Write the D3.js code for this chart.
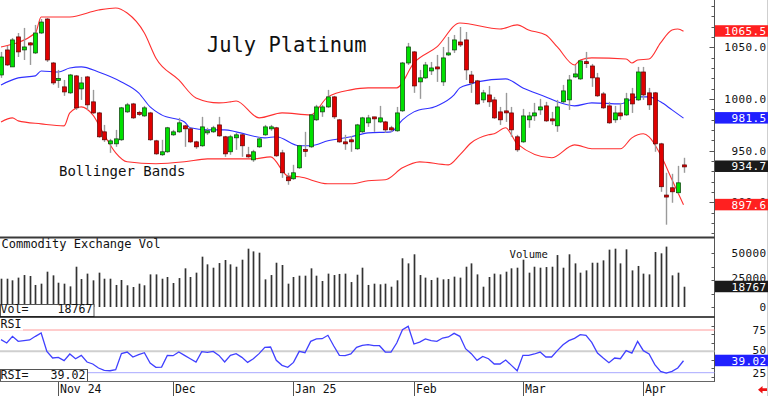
<!DOCTYPE html>
<html><head><meta charset="utf-8">
<script src="https://cdn.jsdelivr.net/npm/d3@7/dist/d3.min.js"></script>
<style>
body{margin:0;background:#fff}
svg{display:block}
text{font-family:"DejaVu Sans Mono",monospace;fill:#111}
</style>
</head><body><svg id="c" width="768" height="396"></svg>
<script>
// ---------- DATA ----------
const opens=[1023.2,1047.4,1031.0,1060.0,1047.4,1054.2,1044.5,1063.8,1077.3,1034.8,
1018.4,1011.7,1005.9,1022.3,1009.7,1021.3,997.2,986.5,968.2,956.6,
956.6,960.5,987.5,995.2,986.5,983.6,986.5,959.5,946.0,948.9,
965.3,968.2,974.0,971.1,958.5,954.7,967.2,968.2,974.9,963.4,
948.9,962.4,965.3,946.0,941.1,953.7,965.3,971.6,972.1,947.9,
924.7,922.8,933.4,950.8,953.7,979.8,987.5,992.3,1002.0,979.8,
958.5,960.0,951.8,968.2,976.9,982.2,977.8,977.8,972.1,969.2,
988.5,1034.8,1045.5,1016.5,1020.4,1027.1,1030.5,1016.5,1042.6,1047.4,
1055.1,1057.1,1023.2,1017.5,999.1,1003.9,999.1,987.5,988.0,986.5,
963.4,958.5,979.8,983.6,989.4,993.3,980.7,974.0,997.2,999.1,
1021.3,1019.4,1035.8,1031.9,1020.4,1004.9,993.3,979.8,986.5,984.6,
1004.9,999.1,1026.1,1005.9,1005.9,956.6,906.8,914.1,909.3,935.8];
const highs=[1045.5,1051.3,1059.0,1063.8,1068.7,1055.1,1071.6,1077.3,1078.3,1035.8,
1028.1,1018.4,1024.2,1023.2,1021.3,1022.3,1008.8,987.5,974.9,961.4,
970.1,992.3,996.2,996.2,988.5,993.3,987.5,960.5,960.5,973.0,
970.1,981.7,974.9,972.1,959.5,982.7,972.1,974.0,982.7,964.3,
965.3,967.2,966.3,953.7,950.8,963.4,974.9,974.9,973.0,950.8,
928.6,936.3,955.6,968.2,985.6,994.3,994.3,1008.8,1003.0,980.7,
965.3,964.3,975.9,982.7,984.6,982.7,993.3,978.8,974.0,992.3,
1035.8,1054.2,1046.4,1028.1,1035.8,1035.8,1042.6,1050.3,1060.0,1061.9,
1069.6,1064.8,1027.1,1018.4,1008.8,1012.6,1002.0,992.3,1005.9,992.3,
965.3,990.4,987.5,996.2,1000.1,997.2,987.5,999.1,1013.6,1023.2,
1032.9,1037.7,1045.5,1033.9,1025.2,1006.8,997.2,993.3,996.2,1005.9,
1010.7,1031.0,1031.0,1010.7,1006.8,957.6,928.6,927.6,935.3,943.1];
const lows=[1020.4,1031.9,1031.0,1040.6,1037.7,1032.9,1043.5,1062.9,1035.8,1013.6,
1010.7,1003.0,1004.9,989.4,999.1,989.4,985.6,962.4,958.5,947.9,
953.7,959.5,986.5,980.7,983.6,982.7,959.5,946.0,945.0,947.9,
964.3,967.2,953.7,957.6,951.8,953.7,965.3,967.2,963.4,944.0,
946.0,950.8,944.0,943.1,939.2,952.7,964.3,969.2,944.0,923.7,
917.0,921.8,932.4,944.0,952.7,978.8,982.7,991.4,980.7,957.6,
950.8,948.9,950.8,967.2,973.0,968.2,976.9,967.2,968.2,968.2,
987.5,1032.9,1005.9,1000.1,1019.4,1023.2,1016.5,1012.6,1041.6,1044.5,
1050.3,1018.4,1005.9,994.3,996.2,992.3,980.7,974.9,977.8,963.4,
948.9,957.6,972.1,978.8,984.6,977.8,974.9,968.2,996.2,989.4,
1020.4,1018.4,1030.0,1011.7,1002.0,990.4,975.9,976.9,979.8,983.6,
986.5,998.1,999.1,989.4,948.9,910.2,878.4,899.6,908.3,928.6];
const closes=[1040.6,1032.9,1057.1,1045.5,1050.3,1052.2,1063.8,1074.4,1037.7,1015.5,
1019.4,1006.8,1023.2,991.4,1015.5,994.3,986.5,963.4,960.5,959.5,
961.4,991.4,994.3,981.7,985.6,991.4,960.5,946.9,948.9,972.1,
968.2,976.9,971.1,958.5,953.7,973.0,969.2,972.1,964.3,946.9,
963.4,965.3,954.7,944.0,948.9,961.4,973.0,972.5,945.0,928.6,
920.9,928.6,954.7,949.8,984.6,992.3,992.3,1002.0,982.7,958.5,
956.6,959.0,974.9,981.7,981.7,981.2,981.7,970.1,970.1,986.5,
1034.8,1050.3,1012.6,1020.4,1032.9,1030.0,1029.5,1039.7,1044.5,1057.1,
1052.2,1028.1,1015.5,995.2,1005.9,997.2,981.7,979.8,987.0,970.1,
950.8,983.6,983.6,986.5,992.3,978.8,978.8,992.3,1007.8,1018.4,
1024.2,1036.8,1034.4,1020.4,1003.0,991.4,976.9,986.5,983.6,1000.1,
995.2,1026.1,1003.9,994.3,956.6,915.1,905.4,910.2,918.9,934.7];
const volumes=[26200,26200,24700,27200,29600,28700,20400,21600,32700,29300,
22500,21600,19100,37300,25900,30900,24700,31800,26200,26200,
20400,25000,20100,18500,21600,20100,30200,30200,26200,27800,
22200,26800,35800,27800,31800,46600,39500,36400,40700,43500,
39500,37300,43800,54000,51500,50300,25600,29600,41000,38900,
21600,27800,29000,29000,35800,29000,24100,30900,29600,30600,
30900,23100,29900,36400,20400,21600,21000,21600,18800,24700,
45100,40400,48800,29600,27200,25000,27200,25600,25900,28100,
27200,37300,40400,30200,18800,27800,30900,30200,32700,35800,
36400,43800,31800,37300,36400,37000,37300,48100,36400,48800,
40400,31800,33900,41000,41000,43200,53100,54000,40400,53400,
33900,38000,30900,30200,50900,49700,55900,29300,31800,18767];
const rsi=[63.7,59.8,67.6,61.7,62.5,63.3,67.6,71.5,50.0,42.2,
43.0,39.1,46.9,41.4,45.3,37.5,35.2,30.5,27.7,27.3,
28.5,47.3,49.2,43.4,46.1,48.4,36.3,31.3,31.6,45.3,
44.9,49.2,45.3,41.4,37.5,49.6,48.8,50.0,45.3,37.5,
45.3,47.3,43.0,37.1,41.4,47.3,54.7,55.1,39.5,33.6,
31.3,37.1,50.0,48.4,61.7,64.5,64.8,68.8,56.6,45.3,
44.9,46.9,54.7,57.0,57.8,56.6,56.6,49.2,49.2,59.8,
75.4,79.3,58.6,60.9,64.5,62.5,61.7,65.6,66.8,71.1,
67.6,53.1,47.3,39.5,44.1,41.4,35.2,35.2,39.8,33.6,
27.3,45.3,45.3,46.9,49.2,43.4,43.4,50.8,57.8,62.5,
65.2,69.5,68.8,60.5,48.0,42.2,36.7,42.2,41.4,50.8,
48.0,61.7,50.8,46.9,34.4,26.6,24.6,26.6,30.5,39.02];
// Bollinger bands at these bar indexes
const upperIdx=[0,6,7,12,17,20,22,25,27,31,34,38,40,41,45,49,54,57,61,64,69,72,76,80,87,90,92,95,97,100,101,103,109,110,111,113,115,117,118,119];
const upperVal=[1050.3,1063.8,1079.3,1079.3,1086.0,1088.0,1083.1,1063.8,1039.7,1018.4,1001.0,996.2,997.2,998.0,981.7,986.5,984.6,1002.0,1008.8,1010.7,1010.7,1034.8,1050.3,1073.5,1067.7,1071.6,1066.7,1061.9,1050.3,1032.9,1037.7,1039.7,1038.7,1034.8,1037.7,1038.7,1054.2,1066.7,1067.7,1065.5];
const midIdx=[0,3,6,7,10,12,14,17,21,24,26,28,32,33,36,39,41,46,48,52,54,57,61,64,68,70,72,76,79,80,82,83,88,91,95,97,100,103,108,111,113,115,117,119];
const midVal=[1013.6,1020.4,1022.3,1027.1,1026.1,1030.0,1031.0,1026.1,1016.5,1005.9,992.3,984.6,977.8,972.1,970.1,970.1,968.2,962.4,963.4,954.7,954.7,959.5,963.4,967.2,968.2,979.8,987.5,993.3,1004.0,1010.7,1014.6,1016.5,1019.4,1010.7,1002.0,997.2,993.3,996.2,995.2,1002.0,1002.0,997.2,989.4,981.5];
const lowIdx=[0,2,3,7,11,12,14,16,18,20,22,27,32,36,41,44,47,50,52,57,61,64,67,70,73,78,80,82,85,86,88,89,90,96,100,103,108,110,112,113,115,117,119];
const lowVal=[977.8,981.7,978.8,975.9,974.0,986.5,992.3,984.6,965.3,947.9,939.2,937.3,939.2,942.1,942.1,942.1,944.0,925.7,924.7,918.0,918.0,920.9,921.8,933.4,939.2,936.3,946.0,957.6,965.3,966.3,972.1,965.3,956.6,943.1,955.6,951.8,951.8,962.4,966.3,963.4,946.0,921.8,897.6];
const monthTicks=[10,30,51,72,91,112];
const monthLabels=["Nov 24","Dec","Jan 25","Feb","Mar","Apr"];
const priceTicks=[900,950,1000,1050];
const volTicks=[0,25000,50000];
const rsiTicks=[25,50,75];

// ---------- SCALES ----------
const svg=d3.select("#c");
const AX=714.5;
const x=d3.scaleLinear().domain([0,119]).range([1,683.5]);
const yP=d3.scaleLinear().domain([866.5,1095.7]).range([237,0]);
const yV=d3.scaleLinear().domain([0,50000]).range([307,253]);
const yR=d3.scaleLinear().domain([25,75]).range([372.7,330]);
const px=i=>Math.round(x(i))+0.5;
const idx=d3.range(closes.length);

// ---------- AXIS FRAME ----------
svg.append("line").attr("x1",767.5).attr("x2",767.5).attr("y1",0).attr("y2",396).attr("stroke","#cfcfcf");
svg.append("line").attr("x1",AX).attr("x2",AX).attr("y1",0).attr("y2",382).attr("stroke","#555").attr("stroke-width",1);
const tk=svg.append("g").attr("stroke","#555");
d3.range(870,1096,10).forEach(v=>tk.append("line").attr("x1",AX-(v%50===0?5:3)).attr("x2",AX).attr("y1",Math.round(yP(v))+0.5).attr("y2",Math.round(yP(v))+0.5));
d3.range(0,62500,12500).forEach(v=>{if(yV(v)>240)tk.append("line").attr("x1",AX-3).attr("x2",AX).attr("y1",Math.round(yV(v))+0.5).attr("y2",Math.round(yV(v))+0.5);});
d3.range(20,90,10).forEach(v=>{const yy=yR(v);if(yy>319&&yy<381)tk.append("line").attr("x1",AX-3).attr("x2",AX).attr("y1",Math.round(yy)+0.5).attr("y2",Math.round(yy)+0.5);});

// ---------- PRICE PANEL ----------
const bandLine=d3.line().x(d=>x(d[0])).y(d=>yP(d[1])).curve(d3.curveMonotoneX);
const bands=svg.append("g").attr("fill","none").attr("stroke-width",1.1);
bands.append("path").attr("d",bandLine(upperIdx.map((d,k)=>[d,upperVal[k]]))).attr("stroke","#ff3030");
bands.append("path").attr("d",bandLine(lowIdx.map((d,k)=>[d,lowVal[k]]))).attr("stroke","#ff3030");
bands.append("path").attr("d",bandLine(midIdx.map((d,k)=>[d,midVal[k]]))).attr("stroke","#3030ff");

const cg=svg.append("g");
cg.selectAll("line.w").data(idx).join("line")
  .attr("x1",i=>px(i)).attr("x2",i=>px(i))
  .attr("y1",i=>yP(highs[i])).attr("y2",i=>yP(lows[i]))
  .attr("stroke","#9a9a9a").attr("stroke-width",1.4);
cg.selectAll("rect").data(idx).join("rect")
  .attr("x",i=>px(i)-2).attr("width",4)
  .attr("y",i=>{const t=yP(Math.max(opens[i],closes[i])),b=yP(Math.min(opens[i],closes[i]));return b-t<2?(t+b)/2-1:t;})
  .attr("height",i=>Math.max(2,yP(Math.min(opens[i],closes[i]))-yP(Math.max(opens[i],closes[i]))))
  .attr("fill",i=>closes[i]>=opens[i]?"#00e000":"#e00000")
  .attr("stroke",i=>closes[i]>=opens[i]?"#0b3b0b":"#5a0000").attr("stroke-width",0.7);

svg.append("text").attr("x",207).attr("y",51.5).attr("font-size",20.4).text("July Platinum");
svg.append("text").attr("x",59).attr("y",176).attr("font-size",14).text("Bollinger Bands");

// ---------- VOLUME PANEL ----------
svg.append("g").selectAll("line").data(idx).join("line")
  .attr("x1",i=>px(i)).attr("x2",i=>px(i))
  .attr("y1",yV(0)).attr("y2",i=>yV(volumes[i]))
  .attr("stroke","#333").attr("stroke-width",1.7);
svg.append("text").attr("x",1.5).attr("y",248.3).attr("font-size",12).text("Commodity Exchange Vol");
svg.append("text").attr("x",509.5).attr("y",257.5).attr("font-size",10.6).text("Volume");
svg.append("rect").attr("x",0.5).attr("y",304.5).attr("width",93.5).attr("height",12).attr("fill","#fff").attr("stroke","#555");
svg.append("text").attr("x",0.5).attr("y",313.3).attr("font-size",11.6).text("Vol=");
svg.append("text").attr("x",92.5).attr("y",313.3).attr("font-size",11.6).attr("text-anchor","end").text(d3.format("d")(volumes[volumes.length-1]));

// ---------- RSI PANEL ----------
svg.append("line").attr("x1",0).attr("x2",AX).attr("y1",yR(75)).attr("y2",yR(75)).attr("stroke","#ff9a9a");
svg.append("line").attr("x1",0).attr("x2",AX).attr("y1",yR(50)).attr("y2",yR(50)).attr("stroke","#cfcfcf").attr("stroke-width",2);
svg.append("line").attr("x1",0).attr("x2",AX).attr("y1",yR(25)).attr("y2",yR(25)).attr("stroke","#a8a8ff");
svg.append("path").attr("d",d3.line().x(i=>x(i)).y(i=>yR(rsi[i]))(idx)).attr("fill","none").attr("stroke","#4040ff").attr("stroke-width",1.3);
svg.append("rect").attr("x",0).attr("y",318.5).attr("width",23).attr("height",12).attr("fill","#fff");
svg.append("text").attr("x",0.5).attr("y",328.3).attr("font-size",11.6).text("RSI");
svg.append("rect").attr("x",0.5).attr("y",369.5).attr("width",87).attr("height",12).attr("fill","#fff").attr("stroke","#555");
svg.append("text").attr("x",0.5).attr("y",379.3).attr("font-size",11.6).text("RSI=");
svg.append("text").attr("x",85.5).attr("y",379.3).attr("font-size",11.6).attr("text-anchor","end").text(d3.format(".2f")(rsi[rsi.length-1]));

// ---------- PANEL SEPARATORS ----------
svg.append("line").attr("x1",0).attr("x2",AX).attr("y1",237.5).attr("y2",237.5).attr("stroke","#3a3a3a").attr("stroke-width",2);
svg.append("line").attr("x1",0).attr("x2",AX).attr("y1",317).attr("y2",317).attr("stroke","#111").attr("stroke-width",1.6);
svg.append("line").attr("x1",0).attr("x2",AX).attr("y1",381.5).attr("y2",381.5).attr("stroke","#666").attr("stroke-width",1);

// ---------- X AXIS ----------
const xa=svg.append("g");
monthTicks.forEach((m,k)=>{
  const xx=Math.round(x(m))+0.5;
  xa.append("line").attr("x1",xx).attr("x2",xx).attr("y1",382).attr("y2",396).attr("stroke","#555");
  xa.append("text").attr("x",xx+1.5).attr("y",393.3).attr("font-size",11.5).text(monthLabels[k]);
});

// ---------- RIGHT AXIS LABELS ----------
const ra=svg.append("g").attr("font-size",11).attr("letter-spacing",0.4);
priceTicks.forEach(v=>ra.append("text").attr("x",766.5).attr("y",yP(v)+4).attr("text-anchor","end").attr("font-size",11).text(d3.format(".1f")(v)));
volTicks.forEach(v=>ra.append("text").attr("x",766.5).attr("y",yV(v)+(v===25000?1.5:4)).attr("text-anchor","end").attr("font-size",11).text(v));
rsiTicks.forEach(v=>ra.append("text").attr("x",766.5).attr("y",yR(v)+(v===50?2.6:4)).attr("text-anchor","end").attr("font-size",11).text(v));

const boxes=[
  {y:yP(upperVal[upperVal.length-1]),t:d3.format(".1f")(upperVal[upperVal.length-1]),c:"#ff2020"},
  {y:yP(midVal[midVal.length-1]),t:d3.format(".1f")(midVal[midVal.length-1]),c:"#2020ff"},
  {y:yP(closes[closes.length-1]),t:d3.format(".1f")(closes[closes.length-1]),c:"#1a1a1a"},
  {y:yP(lowVal[lowVal.length-1]),t:d3.format(".1f")(lowVal[lowVal.length-1]),c:"#ff2020"},
  {y:yV(volumes[volumes.length-1]),t:d3.format("d")(volumes[volumes.length-1]),c:"#1a1a1a"},
  {y:yR(rsi[rsi.length-1]),t:d3.format(".2f")(rsi[rsi.length-1]),c:"#2020ff"}
];
boxes.forEach(b=>{
  svg.append("rect").attr("x",715).attr("y",b.y-6).attr("width",53).attr("height",11.5).attr("fill",b.c);
  svg.append("text").attr("x",766.5).attr("y",b.y+3.8).attr("text-anchor","end").attr("font-size",11).attr("letter-spacing",0.4).style("fill","#fff").text(b.t);
});

// red arrow
svg.append("path").attr("d","M758,389.7 L762.5,386 L762.5,388.3 L767,388.3 L767,391.1 L762.5,391.1 L762.5,393.4 Z").attr("fill","#ee1111");
</script>
</body></html>
